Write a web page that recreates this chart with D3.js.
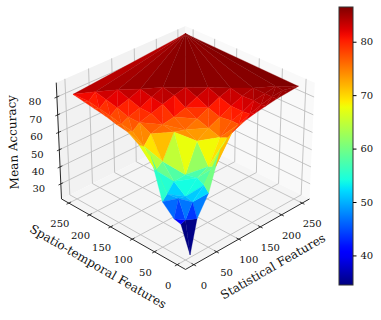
<!DOCTYPE html>
<html>
<head>
<meta charset="utf-8">
<script src="https://cdn.jsdelivr.net/npm/d3@7"></script>
<style>
  body { margin: 0; background: #fff; }
  text { font-family: "DejaVu Serif", serif; fill: #111; }
</style>
</head>
<body>
<svg id="chart" width="381" height="320"></svg>
<script>
// feature counts that were tried, x = statistical, y = spatio-temporal
var statFeatures = [0, 10, 25, 50, 75, 100, 125, 150, 175, 200, 225, 250];
var spatioFeatures = [0, 10, 25, 50, 75, 100, 125, 150, 175, 200, 225, 250];

// mean accuracy, one row per spatio-temporal count, x + y never above 250
var row0 = [null, 22.4, 41, 52, 73, 79, 81.5, 83, 84, 85, 85.5, 86];
var row10 = [40, 41, 49, 55, 62, 75, 79, 81.5, 83.5, 85, 85.5];
var row25 = [41, 51, 50, 57, 60, 73, 79, 81, 84, 85, 86];
var row50 = [47, 50, 55, 55.5, 71, 75, 78, 81, 83.5, 85];
var row75 = [69, 60, 63, 76, 74, 77, 80, 83, 85];
var row100 = [72, 70, 75, 77, 78, 80, 83, 85.5];
var row125 = [76, 75, 78, 80, 82, 84, 85.5];
var row150 = [77, 76, 78, 80, 83, 85.5];
var row175 = [78.5, 77.5, 80, 82, 84.5];
var row200 = [79.5, 78.5, 81.5, 84];
var row225 = [80.5, 79.5, 83];
var row250 = [81.5];
var accuracyRows = [row0, row10, row25, row50, row75, row100, row125, row150, row175, row200, row225, row250];

// the one run with both feature sets at full size
var farCorner = [250, 250, 87.5];

var featureTicks = [0, 50, 100, 150, 200, 250];
var zTicks = [30, 40, 50, 60, 70, 80];
var colorbarTicks = [40, 50, 60, 70, 80];

var svg = d3.select("#chart");

// data to unit box
var xScale = d3.scaleLinear().domain([-18, 268]).range([-0.5, 0.5]);
var yScale = d3.scaleLinear().domain([-18, 268]).range([-0.5, 0.5]);
var zScale = d3.scaleLinear().domain([21, 88]).range([-0.375, 0.375]);

// camera, elev 30 azim 225
var sinE = Math.sin(30 * Math.PI / 180), cosE = Math.cos(30 * Math.PI / 180);
var camDist = 9, camScale = 179, cx = 185.5, cy = 142;

function depth(x, y, z) {
  var d = (xScale(x) + yScale(y)) / Math.SQRT2;
  return -d * cosE + zScale(z) * sinE;
}

function project(x, y, z) {
  var u = xScale(x), v = yScale(y), w = zScale(z);
  var f = camDist / (camDist - depth(x, y, z));
  return [
    cx + camScale * f * (u - v) / Math.SQRT2,
    cy - camScale * f * ((u + v) / Math.SQRT2 * sinE + w * cosE)
  ];
}

var line3d = d3.line().x(function (p) { return p[0]; }).y(function (p) { return p[1]; });

function path3d(points) {
  return line3d(points.map(function (p) { return project(p[0], p[1], p[2]); }));
}

var x0 = xScale.domain()[0], x1 = xScale.domain()[1];
var y0 = yScale.domain()[0], y1 = yScale.domain()[1];
var z0 = zScale.domain()[0], z1 = zScale.domain()[1];

// panes
var panes = [
  { c: "#f2f2f2", p: [[x0, y1, z0], [x1, y1, z0], [x1, y1, z1], [x0, y1, z1]] },
  { c: "#f9f9f9", p: [[x1, y0, z0], [x1, y1, z0], [x1, y1, z1], [x1, y0, z1]] },
  { c: "#f5f5f5", p: [[x0, y0, z0], [x1, y0, z0], [x1, y1, z0], [x0, y1, z0]] }
];
svg.selectAll("path.pane")
  .data(panes)
  .enter().append("path")
  .attr("class", "pane")
  .attr("d", function (d) { return path3d(d.p) + "Z"; })
  .attr("fill", function (d) { return d.c; });

// grid
var gridLines = [];
featureTicks.forEach(function (t) {
  gridLines.push([[t, y0, z0], [t, y1, z0], [t, y1, z1]]);
  gridLines.push([[x0, t, z0], [x1, t, z0], [x1, t, z1]]);
});
zTicks.forEach(function (t) {
  gridLines.push([[x0, y1, t], [x1, y1, t], [x1, y0, t]]);
});
svg.selectAll("path.grid")
  .data(gridLines)
  .enter().append("path")
  .attr("class", "grid")
  .attr("d", path3d)
  .attr("fill", "none")
  .attr("stroke", "#bdbdbd")
  .attr("stroke-width", 0.9);

// axis lines
var axisLines = [
  [[x0, y1, z0], [x0, y1, z1]],
  [[x0, y0, z0], [x0, y1, z0]],
  [[x0, y0, z0], [x1, y0, z0]]
];
svg.selectAll("path.axis")
  .data(axisLines)
  .enter().append("path")
  .attr("class", "axis")
  .attr("d", path3d)
  .attr("fill", "none")
  .attr("stroke", "#111")
  .attr("stroke-width", 0.9);

// ticks and their labels
var tickLen = 5;
featureTicks.forEach(function (t) {
  var a = project(t, y0, z0);
  svg.append("path").attr("d", path3d([[t, y0 - tickLen, z0], [t, y0 + tickLen, z0]]))
    .attr("stroke", "#111").attr("stroke-width", 0.8);
  svg.append("text").attr("x", a[0] + 10).attr("y", a[1] + 24)
    .attr("text-anchor", "middle").attr("font-size", 10).text(t);

  var b = project(x0, t, z0);
  svg.append("path").attr("d", path3d([[x0 - tickLen, t, z0], [x0 + tickLen, t, z0]]))
    .attr("stroke", "#111").attr("stroke-width", 0.8);
  svg.append("text").attr("x", b[0] - 9).attr("y", b[1] + 24)
    .attr("text-anchor", "middle").attr("font-size", 10).text(t);
});
zTicks.forEach(function (t) {
  var a = project(x0, y1, t);
  svg.append("path").attr("d", path3d([[x0 - tickLen, y1, t], [x0 + tickLen, y1, t]]))
    .attr("stroke", "#111").attr("stroke-width", 0.8);
  svg.append("text").attr("x", a[0] - 22).attr("y", a[1] + 8)
    .attr("text-anchor", "middle").attr("font-size", 10).text(t);
});

// flatten the rows and triangulate in the x/y plane
var points = [];
accuracyRows.forEach(function (row, j) {
  row.forEach(function (z, i) {
    if (z !== null) points.push([statFeatures[i], spatioFeatures[j], z]);
  });
});
points.push(farCorner);

var tri = d3.Delaunay.from(points, function (p) { return p[0]; }, function (p) { return p[1]; }).triangles;
var faces = [];
for (var t = 0; t < tri.length; t += 3) {
  var corners = [points[tri[t]], points[tri[t + 1]], points[tri[t + 2]]];
  faces.push({
    p: corners,
    z: d3.mean(corners, function (c) { return c[2]; }),
    depth: d3.mean(corners, function (c) { return depth(c[0], c[1], c[2]); })
  });
}
faces.sort(function (a, b) { return a.depth - b.depth; });

// jet colormap
var jetR = d3.scaleLinear().domain([0, 0.35, 0.66, 0.89, 1]).range([0, 0, 1, 1, 0.5]);
var jetG = d3.scaleLinear().domain([0, 0.125, 0.375, 0.64, 0.91, 1]).range([0, 0, 1, 1, 0, 0]);
var jetB = d3.scaleLinear().domain([0, 0.11, 0.34, 0.65, 1]).range([0.5, 1, 1, 0, 0]);
function jet(t) {
  return d3.rgb(jetR(t) * 255, jetG(t) * 255, jetB(t) * 255).toString();
}
var colorDomain = d3.extent(faces, function (f) { return f.z; });
var colorNorm = d3.scaleLinear().domain(colorDomain).range([0, 1]);

svg.selectAll("path.face")
  .data(faces)
  .enter().append("path")
  .attr("class", "face")
  .attr("d", function (d) { return path3d(d.p) + "Z"; })
  .attr("fill", function (d) { return jet(colorNorm(d.z)); })
  .attr("stroke", function (d) { return jet(colorNorm(d.z)); })
  .attr("stroke-width", 0.3);

// axis titles
svg.append("text").attr("transform", "translate(17,142) rotate(-92)")
  .attr("text-anchor", "middle").attr("font-size", 12).text("Mean Accuracy");
svg.append("text").attr("transform", "translate(96,270) rotate(30)")
  .attr("text-anchor", "middle").attr("font-size", 12).text("Spatio-temporal Features");
svg.append("text").attr("transform", "translate(275,270) rotate(-30)")
  .attr("text-anchor", "middle").attr("font-size", 12).text("Statistical Features");

// colorbar
var barLeft = 339, barWidth = 14, barTop = 7, barBottom = 285;
var barScale = d3.scaleLinear().domain(colorDomain).range([barBottom, barTop]);
var defs = svg.append("defs");
var grad = defs.append("linearGradient").attr("id", "jetGrad")
  .attr("x1", 0).attr("x2", 0).attr("y1", 1).attr("y2", 0);
grad.selectAll("stop")
  .data(d3.range(0, 1.001, 0.02))
  .enter().append("stop")
  .attr("offset", function (d) { return d; })
  .attr("stop-color", jet);
svg.append("rect")
  .attr("x", barLeft).attr("y", barTop)
  .attr("width", barWidth).attr("height", barBottom - barTop)
  .attr("fill", "url(#jetGrad)")
  .attr("stroke", "#333").attr("stroke-width", 1);

var barAxis = d3.axisRight(barScale).tickValues(colorbarTicks).tickSize(3.5).tickPadding(4);
var barG = svg.append("g").attr("transform", "translate(" + (barLeft + barWidth) + ",0)").call(barAxis);
barG.select(".domain").remove();
barG.selectAll("text").attr("font-size", 10).style("font-family", '"DejaVu Serif", serif');
</script>
</body>
</html>
